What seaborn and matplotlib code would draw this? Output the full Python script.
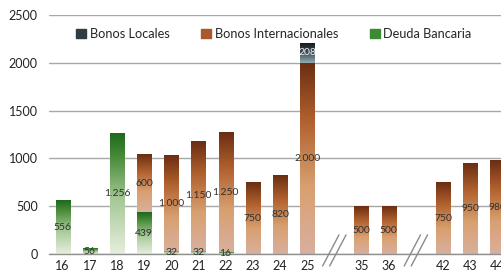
import numpy as np
import pandas as pd
import matplotlib
matplotlib.use("Agg")
import matplotlib.pyplot as plt
import seaborn as sns
from matplotlib.colors import LinearSegmentedColormap
from matplotlib.patches import Patch
import matplotlib.transforms as mtransforms

categories = ['16', '17', '18', '19', '20', '21', '22', '23', '24', '25', 'gap1',
              '35', '36', 'gap2', '42', '43', '44']
tick_labels = ['16', '17', '18', '19', '20', '21', '22', '23', '24', '25', '',
               '35', '36', '', '42', '43', '44']
deuda_bancaria = [556, 56, 1256, 439, 32, 32, 16, 0, 0, 0, 0, 0, 0, 0, 0, 0, 0]
bonos_internacionales = [0, 0, 0, 600, 1000, 1150, 1250, 750, 820, 2000, 0,
                         500, 500, 0, 750, 950, 980]
bonos_locales = [0, 0, 0, 0, 0, 0, 0, 0, 0, 208, 0, 0, 0, 0, 0, 0, 0]
break_positions = ['gap1', 'gap2']

sns.set_theme(style="white")
plt.rcParams['font.family'] = ['Lato', 'DejaVu Sans']

fig = plt.figure(figsize=(5.02, 2.72), dpi=100)
ax = fig.add_axes([49 / 502, 18 / 272, 462 / 502, 239 / 272])

df = pd.DataFrame({'cat': categories, 'deuda': deuda_bancaria,
                   'intl': bonos_internacionales, 'loc': bonos_locales})
bottom_intl = np.array(deuda_bancaria)
bottom_loc = bottom_intl + np.array(bonos_internacionales)

cm_green = LinearSegmentedColormap.from_list('g', [(0, '#e6efde'), (0.45, '#a6c896'),
                                                    (0.8, '#4a8c3a'), (1, '#1b6a1b')])
cm_brown = LinearSegmentedColormap.from_list('b', [(0, '#d9b09e'), (0.35, '#d8a070'),
                                                    (0.7, '#b0602e'), (1, '#6a2e12')])
cm_dark = LinearSegmentedColormap.from_list('d', [(0, '#93aab2'), (0.5, '#44545a'),
                                                   (1, '#121a1c')])

series = [
    ('deuda', np.zeros(len(categories)), cm_green, '#303030'),
    ('intl', bottom_intl, cm_brown, '#303030'),
    ('loc', bottom_loc, cm_dark, '#e8eeee'),
]

grad = np.linspace(0, 1, 256).reshape(-1, 1)
for col, bottom, cmap, tcol in series:
    n_before = len(ax.patches)
    sns.barplot(data=df, x='cat', y=col, order=categories, ax=ax, bottom=bottom,
                width=0.52, color='#888888', linewidth=0, errorbar=None,
                estimator='sum')
    for p, v in zip(ax.patches[n_before:], df[col]):
        if v <= 0:
            p.set_visible(False)
            continue
        x0, y0, w, h = p.get_x(), p.get_y(), p.get_width(), p.get_height()
        ax.imshow(grad, cmap=cmap, origin='lower', aspect='auto',
                  extent=(x0, x0 + w, y0, y0 + h), zorder=2.5)
        ax.text(x0 + w / 2, y0 + h / 2, f"{int(v):,}".replace(',', '.'),
                ha='center', va='center', fontsize=7.5, color=tcol, zorder=4)

ax.set_xlim(-0.5, len(categories) - 0.5)
ax.set_ylim(0, 2500)
ax.set_yticks([0, 500, 1000, 1500, 2000, 2500])
ax.yaxis.grid(True, color='#a8a8a8', linewidth=1)
ax.set_axisbelow(True)
ax.set_xticks(range(len(categories)))
ax.set_xticklabels(tick_labels)
ax.set_xticks(np.arange(-0.5, len(categories), 1), minor=True)
ax.tick_params(axis='x', which='major', length=0, labelsize=9, pad=4, colors='#222222')
ax.tick_params(axis='x', which='minor', length=4, width=1, color='#909090', direction='out')
ax.tick_params(axis='y', length=0, labelsize=9, pad=8, colors='#222222')
ax.set_xlabel('')
ax.set_ylabel('')
for s in ['left', 'right', 'top']:
    ax.spines[s].set_visible(False)
ax.spines['bottom'].set_color('#909090')
ax.spines['bottom'].set_linewidth(1)

# axis break marks
trans = mtransforms.blended_transform_factory(ax.transData, ax.transAxes)
for bp in break_positions:
    xi = categories.index(bp)
    for off in (-0.13, 0.13):
        ax.plot([xi + off - 0.3, xi + off + 0.3], [-0.05, 0.08], transform=trans,
                color='#8a8a8a', lw=1, clip_on=False, zorder=5)

handles = [Patch(color='#2f3d42'), Patch(color='#a8582a'), Patch(color='#3c8a32')]
ax.legend(handles, ['Bonos Locales', 'Bonos Internacionales', 'Deuda Bancaria'],
          loc='upper left', bbox_to_anchor=(0.034, 0.995), ncol=3, frameon=False,
          fontsize=9.2, handlelength=0.75, handleheight=0.75, handletextpad=0.3,
          columnspacing=2.5)

fig.savefig('out.png', dpi=100)
